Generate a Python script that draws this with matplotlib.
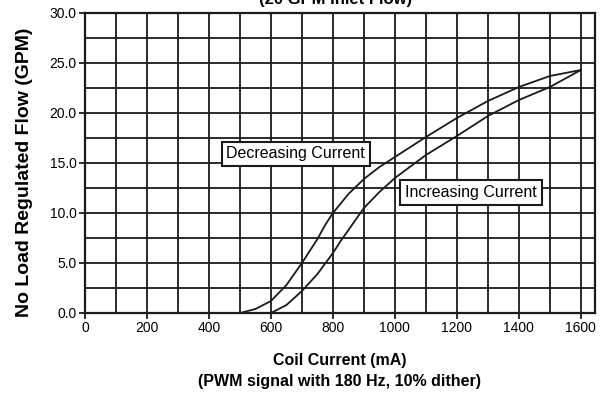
import matplotlib
matplotlib.use("Agg")
import matplotlib.pyplot as plt
import numpy as np

# hysteresis curves (mA, GPM)
dec_current = [440, 500, 550, 600, 650, 700, 725, 750, 775, 800, 850, 900, 950, 1000, 1100, 1200, 1300, 1400, 1500, 1600]
dec_flow = [-0.05, 0.0, 0.4, 1.2, 2.8, 5.0, 6.2, 7.4, 8.8, 10.0, 11.9, 13.4, 14.6, 15.6, 17.6, 19.5, 21.2, 22.6, 23.7, 24.3]

inc_current = [440, 520, 600, 650, 700, 750, 800, 825, 850, 900, 950, 1000, 1100, 1200, 1300, 1400, 1500, 1600]
inc_flow = [-0.05, -0.15, 0.0, 0.8, 2.2, 3.9, 6.0, 7.2, 8.3, 10.5, 12.1, 13.5, 15.8, 17.7, 19.7, 21.3, 22.6, 24.3]

x_ticks = [0, 200, 400, 600, 800, 1000, 1200, 1400, 1600]
y_ticks = [0, 5, 10, 15, 20, 25, 30]

plt.rcParams['font.family'] = ['Liberation Sans', 'DejaVu Sans']

fig = plt.figure(figsize=(6.07, 3.96), dpi=100)
ax = fig.add_axes([0.14, 0.2096, 0.840, 0.7576])

ax.plot(dec_current, dec_flow, color='#1a1a1a', lw=1.3, zorder=3)
ax.plot(inc_current, inc_flow, color='#1a1a1a', lw=1.3, zorder=3)

ax.set_xlim(0, 1645)
ax.set_ylim(0, 30)
ax.set_xticks(x_ticks)
ax.set_yticks(y_ticks)
ax.set_yticklabels(['%.1f' % v for v in y_ticks])
ax.set_xticks(np.arange(0, 1601, 100), minor=True)
ax.set_yticks(np.arange(0, 30.1, 2.5), minor=True)
ax.tick_params(which='major', direction='out', length=4, width=1.3, color='#1a1a1a',
               labelsize=10, pad=2)
ax.tick_params(which='minor', length=0)
ax.grid(which='both', color='#1a1a1a', lw=1.3)
ax.set_axisbelow(True)
for s in ax.spines.values():
    s.set_color('#1a1a1a')
    s.set_linewidth(1.6)

ax.set_ylabel('No Load Regulated Flow (GPM)', fontsize=14, fontweight='bold')
ax.yaxis.set_label_coords(-0.102, 0.468)
ax.set_xlabel('Coil Current (mA)\n(PWM signal with 180 Hz, 10% dither)', fontsize=11.5,
              fontweight='bold', linespacing=1.5)
ax.xaxis.set_label_coords(0.5, -0.135)

box = dict(boxstyle='square,pad=0.3', fc='white', ec='#1a1a1a', lw=1.5)
ax.text(680, 15.9, 'Decreasing Current', fontsize=11.5, ha='center', va='center', bbox=box, zorder=4)
ax.text(1245, 12.05, 'Increasing Current', fontsize=11.5, ha='center', va='center', bbox=box, zorder=4)

fig.text(0.553, 0.982, '(20 GPM Inlet Flow)', fontsize=12, fontweight='bold',
         ha='center', va='bottom')

fig.savefig('out.png', dpi=100)
